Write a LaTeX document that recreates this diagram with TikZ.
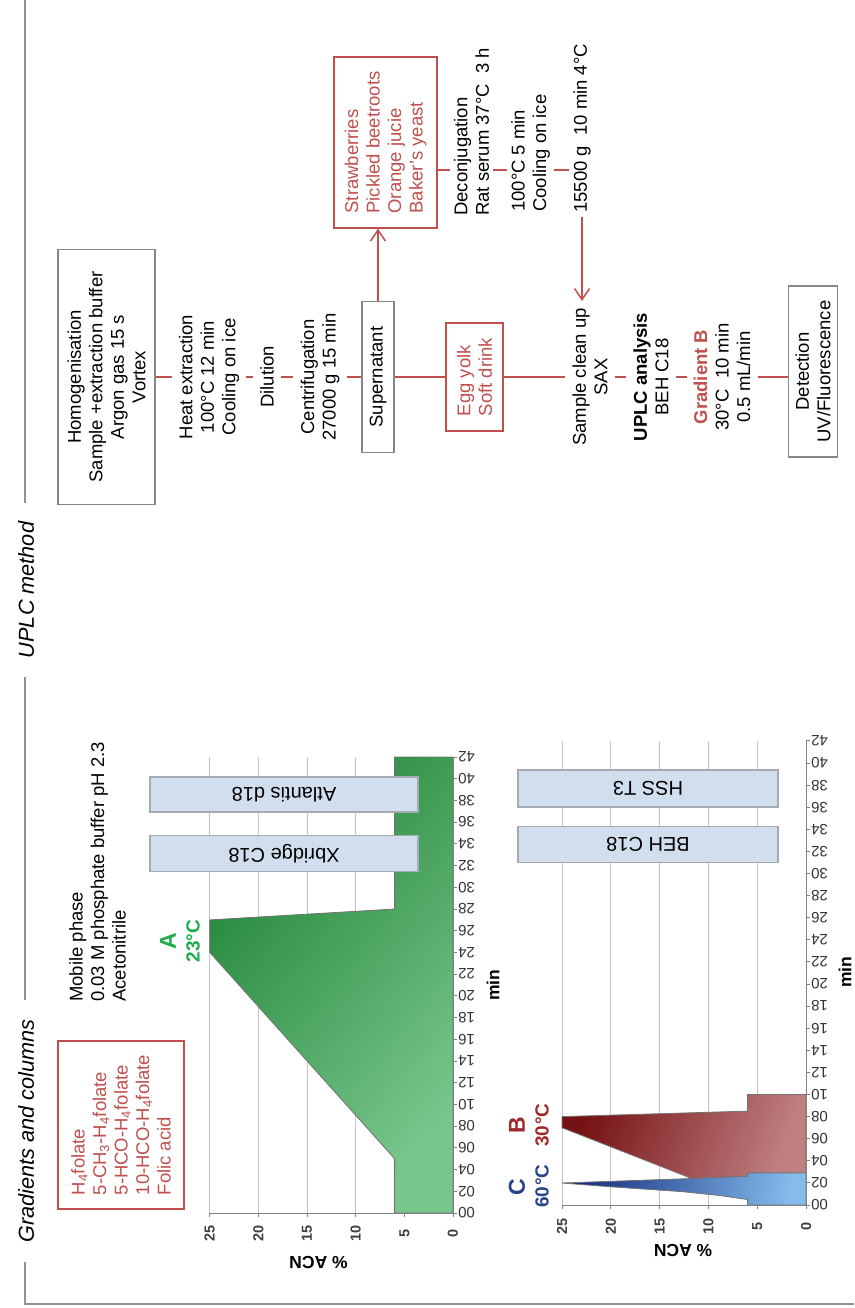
\documentclass[tikz,border=0pt]{standalone}
\usepackage{fontspec}
\setmainfont{Liberation Sans}
\usetikzlibrary{arrows.meta}

\definecolor{flowred}{RGB}{192,80,77}
\definecolor{boxgray}{RGB}{135,135,135}
\definecolor{framegray}{RGB}{145,145,150}
\definecolor{gridgray}{RGB}{195,195,195}
\definecolor{axisgray}{RGB}{130,130,130}
\definecolor{colfill}{RGB}{208,222,238}
\definecolor{colline}{RGB}{165,170,178}
\definecolor{labgreen}{RGB}{30,172,75}
\definecolor{labred}{RGB}{158,42,44}
\definecolor{labblue}{RGB}{38,68,138}
\definecolor{gA1}{RGB}{34,134,56}
\definecolor{gA2}{RGB}{120,198,140}
\definecolor{rB1}{RGB}{118,18,20}
\definecolor{rB2}{RGB}{192,128,130}
\definecolor{bC1}{RGB}{22,45,125}
\definecolor{bC2}{RGB}{132,188,236}

\tikzset{
  body/.style={font=\fontsize{18.5}{21.5}\selectfont},
  txt/.style={body, rotate=90, align=center, inner sep=7pt},
  ltxt/.style={body, rotate=90, align=left, inner sep=7pt},
  graybox/.style={draw=boxgray, line width=1.5pt},
  redbox/.style={draw=flowred, line width=1.5pt, text=flowred},
  flow/.style={draw=flowred, line width=1.5pt},
  flowarrow/.style={flow, -{Straight Barb[length=11pt,width=15pt]}},
  sectitle/.style={font=\fontsize{21.7}{26}\selectfont\itshape, rotate=90,
    fill=white, inner xsep=19pt, inner ysep=3pt},
  outerframe/.style={draw=framegray, line width=2pt},
  gridline/.style={draw=gridgray, line width=1pt},
  axisline/.style={draw=axisgray, line width=1pt},
  ticklab/.style={font=\fontsize{15}{17}\selectfont, text=black!80, rotate=180,
    anchor=east, inner sep=0pt},
  acnlab/.style={font=\fontsize{14.5}{17}\selectfont\bfseries, text=black!75,
    rotate=90, inner sep=0pt},
  axtitle/.style={font=\fontsize{17.5}{20}\selectfont\bfseries, inner sep=0pt},
  colbox/.style={draw=colline, fill=colfill, line width=1.5pt, rotate=180,
    font=\fontsize{20}{24}\selectfont, inner sep=0pt},
  gradcurve/.style={draw=black!55, line width=0.8pt, line join=miter},
  gradlab/.style={rotate=90, inner sep=0pt},
}

\begin{document}
\begin{tikzpicture}[x=1pt,y=-1pt]
\fill[white] (0,0) rectangle (854,1308);
\useasboundingbox (0,0) rectangle (854,1308);

% ---------- outer frame and section titles ----------
\draw[outerframe] (25,0) -- (25,1304) -- (854,1304);
\node[sectitle] (tmeth) at (26,590) {UPLC method};
\node[sectitle] (tgrad) at (26,1131) {Gradients and columns};

% ---------- sample preparation flow ----------
\node[txt, graybox, minimum width=255pt, minimum height=97pt] (homog) at (106.5,377)
  {Homogenisation\\Sample +extraction buffer\\Argon gas 15 s\\Vortex};
\node[txt] (heat) at (209,377) {Heat extraction\\100°C 12 min\\Cooling on ice};
\node[txt] (dil) at (267,377) {Dilution};
\node[txt] (centri) at (320,377) {Centrifugation\\27000 g 15 min};
\node[txt, graybox, minimum width=151pt, minimum height=32pt] (super) at (378,377) {Supernatant};
\node[ltxt, redbox, minimum width=108pt, minimum height=57pt] (egg) at (474.5,377)
  {Egg yolk\\Soft drink};
\node[txt] (clean) at (590,377) {Sample clean up\\SAX};
\node[txt] (uplc) at (651,377) {\textbf{UPLC analysis}\\BEH C18};
\node[txt] (gradb) at (722,377)
  {\textcolor{flowred}{\textbf{Gradient B}}\\30°C\ \ 10 min\\0.5 mL/min};
\node[txt, graybox, minimum width=171pt, minimum height=46pt] (detect) at (813,371.5)
  {Detection\\UV/Fluorescence};

\draw[flow] (homog) -- (heat);
\draw[flow] (heat) -- (dil);
\draw[flow] (dil) -- (centri);
\draw[flow] (centri) -- (super);
\draw[flow] (super) -- (egg);
\draw[flow] (egg) -- (clean);
\draw[flow] (clean) -- (uplc);
\draw[flow] (uplc) -- (gradb);
\draw[flow] (gradb) -- (gradb -| detect.north);

% ---------- deconjugation branch ----------
\node[ltxt, redbox, minimum width=171pt, minimum height=103pt] (straw) at (385.5,142.5)
  {Strawberries\\Pickled beetroots\\Orange jucie\\Baker's yeast};
\coordinate (branch) at (0,170);
\node[ltxt, anchor=west, inner sep=4pt] (deconj) at (471.5,220)
  {Deconjugation\\Rat serum 37°C\ \ 3 h};
\node[ltxt, anchor=west, inner sep=4pt] (boil) at (530.5,216)
  {100°C 5 min\\Cooling on ice};
\node[ltxt, anchor=west, inner sep=4pt] (spin) at (582,217)
  {15500 g\ \ 10 min 4°C};

\draw[flowarrow] (super.east) -- (super.east |- straw.west);
\draw[flow] (straw.south |- branch) -- (deconj.north |- branch);
\draw[flow] (deconj.south |- branch) -- (boil.north |- branch);
\draw[flow] (boil.south |- branch) -- (spin.north |- branch);
\draw[flowarrow] (spin.west) -- (spin.west |- clean.east);

% ---------- analytes and mobile phase ----------
\node[ltxt, redbox, minimum width=168pt, minimum height=126pt] (fol) at (121,1125)
  {H\textsubscript{4}folate\\5-CH\textsubscript{3}-H\textsubscript{4}folate\\
   5-HCO-H\textsubscript{4}folate\\10-HCO-H\textsubscript{4}folate\\Folic acid};
\node[ltxt, anchor=west, inner sep=0pt] (mob) at (97.5,1002)
  {Mobile phase\\0.03 M phosphate buffer pH 2.3\\Acetonitrile};

% ---------- gradient A ----------
\foreach \ac in {5,10,...,25} {
  \pgfmathsetmacro\gx{453-9.73*\ac}
  \draw[gridline] (\gx,757) -- (\gx,1213);
}
\shadedraw[gradcurve, top color=gA1, bottom color=gA2, shading angle=50]
  (453,1213) -- (394.6,1213) -- (394.6,1158.7) -- (209.75,952.4) -- (209.75,919.9)
  -- (394.6,909.0) -- (394.6,757) -- (453,757) -- cycle;
\draw[axisline] (453,757) -- (453,1213) -- (209.75,1213);
\foreach \tm in {0,2,...,42} {
  \pgfmathsetmacro\ty{1213-10.857*\tm}
  \draw[axisline] (453,\ty) -- (457,\ty);
  \node[ticklab] (ta\tm) at (458,\ty) {\ifnum\tm<10 0\fi\tm};
}
\foreach \ac in {0,5,...,25} {
  \pgfmathsetmacro\gx{453-9.73*\ac}
  \draw[axisline] (\gx,1213) -- (\gx,1217);
  \node[acnlab] (aa\ac) at (\gx,1233.5) {\ac};
}
\node[colbox, minimum width=268pt, minimum height=36pt] (xbr) at (284,853.5) {Xbridge C18};
\node[colbox, minimum width=268pt, minimum height=35pt] (atl) at (284,794.5) {Atlantis d18};
\node[axtitle, rotate=180] (yA) at (318.5,1263) {\% ACN};
\node[axtitle, rotate=90] (xA) at (493,985) {min};
\node[gradlab, text=labgreen, font=\fontsize{23}{26}\selectfont\bfseries] (labA) at (168,941) {A};
\node[gradlab, text=labgreen, font=\fontsize{19}{22}\selectfont\bfseries] (tempA) at (193,941) {23°C};

% ---------- gradients B and C ----------
\foreach \ac in {5,10,...,25} {
  \pgfmathsetmacro\gx{806-9.76*\ac}
  \draw[gridline] (\gx,741) -- (\gx,1205);
}
\shadedraw[gradcurve, top color=rB1, bottom color=rB2, shading angle=70]
  (806,1173) -- (747.4,1173) -- (747.4,1176.3) -- (691.8,1178.5) -- (562,1127.7)
  -- (562,1116.6) -- (747.4,1111.1) -- (747.4,1094.5) -- (806,1094.5) -- cycle;
\shadedraw[gradcurve, top color=bC1, bottom color=bC2, shading angle=80]
  (806,1205) -- (747.4,1205) -- (747.4,1199.5) -- (719.6,1195.5) -- (683,1191.7)
  -- (609.7,1186.7) -- (562,1183) -- (691.8,1178.5) -- (747.4,1176.3) -- (747.4,1173)
  -- (806,1173) -- cycle;
\draw[axisline] (806,741) -- (806,1205) -- (562,1205);
\foreach \tm in {0,2,...,42} {
  \pgfmathsetmacro\ty{1205-11.048*\tm}
  \draw[axisline] (806,\ty) -- (810,\ty);
  \node[ticklab] (tb\tm) at (811,\ty) {\ifnum\tm<10 0\fi\tm};
}
\foreach \ac in {0,5,...,25} {
  \pgfmathsetmacro\gx{806-9.76*\ac}
  \draw[axisline] (\gx,1205) -- (\gx,1209);
  \node[acnlab] (ab\ac) at (\gx,1226.5) {\ac};
}
\node[colbox, minimum width=260pt, minimum height=36pt] (beh) at (648,844.5) {BEH C18};
\node[colbox, minimum width=260pt, minimum height=37pt] (hss) at (648,788.5) {HSS T3};
\node[axtitle, rotate=180] (yB) at (683,1251) {\% ACN};
\node[axtitle, rotate=90] (xB) at (845,972) {min};
\node[gradlab, text=labred, font=\fontsize{23}{26}\selectfont\bfseries] (labB) at (517,1125) {B};
\node[gradlab, text=labred, font=\fontsize{19}{22}\selectfont\bfseries] (tempB) at (542,1125) {30\kern1pt°C};
\node[gradlab, text=labblue, font=\fontsize{23}{26}\selectfont\bfseries] (labC) at (517,1187) {C};
\node[gradlab, text=labblue, font=\fontsize{19}{22}\selectfont\bfseries] (tempC) at (542,1186) {60\kern1pt°C};
\end{tikzpicture}
\end{document}
